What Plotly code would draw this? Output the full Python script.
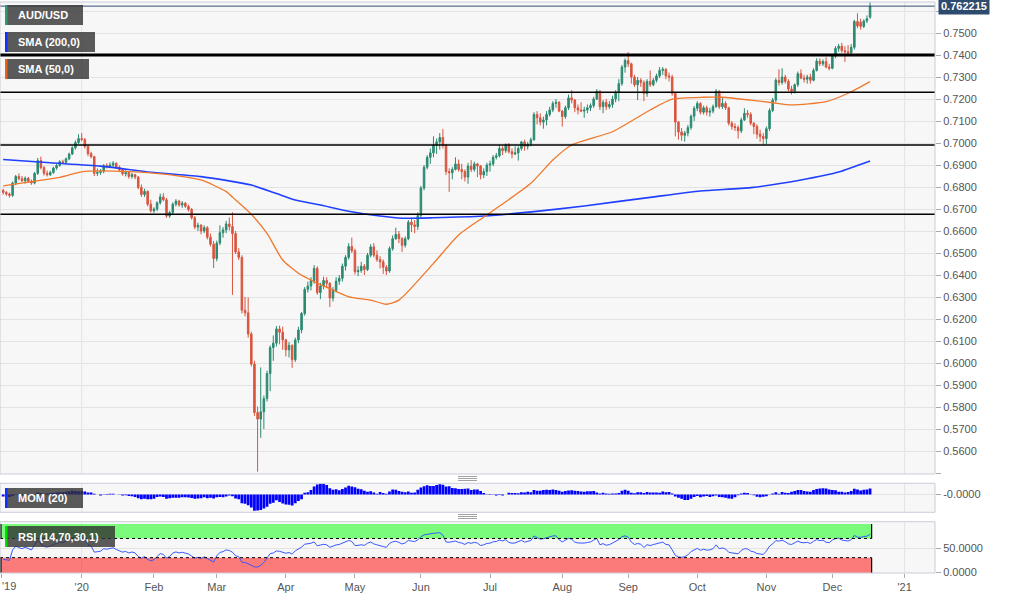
import plotly.graph_objects as go

# ---------------- data (AUD/USD daily, index 0 = 27 Nov 2019) ----------------
prior_close = [0.6880, 0.6895, 0.6905, 0.6905, 0.6880, 0.6870, 0.6890, 0.6860, 0.6860, 0.6855,
               0.6830, 0.6810, 0.6815, 0.6825, 0.6800, 0.6790, 0.6795, 0.6795, 0.6795, 0.6790]

opens = [
    0.6785, 0.6775, 0.6768, 0.6762, 0.6818, 0.6848, 0.6838, 0.6828, 0.6840, 0.6826,
    0.6818, 0.6862, 0.6920, 0.6888, 0.6862, 0.6856, 0.6866, 0.6886, 0.6898, 0.6915,
    0.6912, 0.6928, 0.6950, 0.6978, 0.7002, 0.7020, 0.7016, 0.6985, 0.6952, 0.6938,
    0.6862, 0.6866, 0.6872, 0.6898, 0.6893, 0.6900, 0.6908, 0.6890, 0.6878, 0.6860,
    0.6866, 0.6848, 0.6856, 0.6845, 0.6798, 0.6766, 0.6780, 0.6722, 0.6692, 0.6700,
    0.6728, 0.6755, 0.6742, 0.6668, 0.6684, 0.6722, 0.6736, 0.6718, 0.6726, 0.6712,
    0.6698, 0.6660, 0.6618, 0.6626, 0.6600, 0.6615, 0.6572, 0.6540, 0.6475, 0.6545,
    0.6592, 0.6605, 0.6632, 0.6620, 0.6588, 0.6505, 0.6480, 0.6240, 0.6228, 0.6132,
    0.5995, 0.5775, 0.5745, 0.5778, 0.5838, 0.5952, 0.6070, 0.6090, 0.6155, 0.6140,
    0.6105, 0.6060, 0.6080, 0.6015, 0.6105, 0.6150, 0.6225, 0.6335, 0.6350, 0.6375,
    0.6430, 0.6320, 0.6350, 0.6375, 0.6362, 0.6295, 0.6330, 0.6372, 0.6385, 0.6440,
    0.6480, 0.6530, 0.6510, 0.6415, 0.6420, 0.6440, 0.6425, 0.6490, 0.6528, 0.6490,
    0.6470, 0.6460, 0.6435, 0.6418, 0.6520, 0.6565, 0.6585, 0.6565, 0.6535, 0.6565,
    0.6640, 0.6628, 0.6620, 0.6670, 0.6795, 0.6890, 0.6935, 0.6955, 0.6990, 0.7005,
    0.7025, 0.6990, 0.6870, 0.6865, 0.6880, 0.6905, 0.6880, 0.6870, 0.6845, 0.6895,
    0.6880, 0.6905, 0.6895, 0.6855, 0.6870, 0.6900, 0.6905, 0.6935, 0.6942, 0.6975,
    0.6965, 0.6992, 0.6960, 0.6950, 0.6955, 0.6975, 0.7005, 0.6985, 0.6995, 0.7015,
    0.7130, 0.7115, 0.7095, 0.7105, 0.7130, 0.7150, 0.7180, 0.7185, 0.7145, 0.7120,
    0.7160, 0.7205, 0.7195, 0.7160, 0.7150, 0.7145, 0.7150, 0.7160, 0.7170, 0.7200,
    0.7235, 0.7165, 0.7185, 0.7165, 0.7175, 0.7200, 0.7230, 0.7270, 0.7345, 0.7375,
    0.7360, 0.7300, 0.7265, 0.7285, 0.7275, 0.7225, 0.7280, 0.7265, 0.7285, 0.7305,
    0.7330, 0.7335, 0.7305, 0.7300, 0.7225, 0.7095, 0.7050, 0.7035, 0.7045, 0.7070,
    0.7122, 0.7158, 0.7180, 0.7140, 0.7160, 0.7140, 0.7145, 0.7165, 0.7235, 0.7165,
    0.7180, 0.7160, 0.7090, 0.7075, 0.7070, 0.7055, 0.7105, 0.7135, 0.7130, 0.7090,
    0.7075, 0.7040, 0.7030, 0.7020, 0.7065, 0.7148, 0.7195, 0.7285, 0.7275, 0.7300,
    0.7280, 0.7245, 0.7235, 0.7265, 0.7315, 0.7295, 0.7290, 0.7300, 0.7285, 0.7330,
    0.7372, 0.7360, 0.7370, 0.7345, 0.7340, 0.7395, 0.7430, 0.7440, 0.7420, 0.7415,
    0.7410, 0.7435, 0.7552, 0.7550, 0.7530, 0.7555, 0.7572,
]

highs = [
    0.6792, 0.6782, 0.6775, 0.6825, 0.6855, 0.6862, 0.6850, 0.6848, 0.6846, 0.6834,
    0.6868, 0.6932, 0.6938, 0.6895, 0.6875, 0.6874, 0.6892, 0.6905, 0.6922, 0.6924,
    0.6934, 0.6956, 0.6985, 0.7012, 0.7040, 0.7045, 0.7022, 0.6990, 0.6960, 0.6942,
    0.6884, 0.6882, 0.6904, 0.6908, 0.6912, 0.6918, 0.6912, 0.6898, 0.6885, 0.6876,
    0.6870, 0.6864, 0.6860, 0.6850, 0.6812, 0.6792, 0.6785, 0.6742, 0.6708, 0.6735,
    0.6770, 0.6772, 0.6750, 0.6692, 0.6730, 0.6745, 0.6742, 0.6736, 0.6732, 0.6720,
    0.6705, 0.6668, 0.6638, 0.6632, 0.6626, 0.6622, 0.6588, 0.6555, 0.6556, 0.6626,
    0.6618, 0.6646, 0.6662, 0.6685, 0.6600, 0.6522, 0.6490, 0.6300, 0.6298, 0.6142,
    0.6010, 0.5802, 0.5980, 0.5852, 0.5965, 0.6080, 0.6125, 0.6168, 0.6170, 0.6165,
    0.6110, 0.6095, 0.6085, 0.6115, 0.6165, 0.6232, 0.6345, 0.6370, 0.6390, 0.6445,
    0.6440, 0.6365, 0.6392, 0.6390, 0.6368, 0.6345, 0.6390, 0.6400, 0.6452, 0.6490,
    0.6545, 0.6570, 0.6520, 0.6440, 0.6460, 0.6450, 0.6500, 0.6540, 0.6545, 0.6512,
    0.6485, 0.6470, 0.6445, 0.6530, 0.6580, 0.6615, 0.6600, 0.6572, 0.6575, 0.6650,
    0.6660, 0.6650, 0.6685, 0.6805, 0.6900, 0.6945, 0.6975, 0.7030, 0.7020, 0.7045,
    0.7064, 0.6995, 0.6885, 0.6890, 0.6935, 0.6925, 0.6905, 0.6880, 0.6910, 0.6922,
    0.6915, 0.6910, 0.6900, 0.6885, 0.6910, 0.6920, 0.6945, 0.6955, 0.6990, 0.6985,
    0.6998, 0.7000, 0.6975, 0.6985, 0.6985, 0.7010, 0.7015, 0.7005, 0.7025, 0.7140,
    0.7145, 0.7135, 0.7120, 0.7145, 0.7165, 0.7190, 0.7200, 0.7190, 0.7150, 0.7170,
    0.7220, 0.7240, 0.7200, 0.7175, 0.7185, 0.7165, 0.7175, 0.7180, 0.7210, 0.7245,
    0.7240, 0.7195, 0.7200, 0.7190, 0.7215, 0.7240, 0.7290, 0.7355, 0.7385, 0.7413,
    0.7365, 0.7310, 0.7300, 0.7295, 0.7285, 0.7290, 0.7330, 0.7295, 0.7315, 0.7345,
    0.7345, 0.7340, 0.7320, 0.7310, 0.7230, 0.7100, 0.7068, 0.7055, 0.7082, 0.7130,
    0.7168, 0.7190, 0.7185, 0.7170, 0.7170, 0.7160, 0.7175, 0.7245, 0.7240, 0.7205,
    0.7190, 0.7165, 0.7100, 0.7090, 0.7080, 0.7115, 0.7158, 0.7150, 0.7140, 0.7095,
    0.7085, 0.7060, 0.7045, 0.7075, 0.7158, 0.7205, 0.7295, 0.7335, 0.7340, 0.7310,
    0.7290, 0.7260, 0.7270, 0.7325, 0.7335, 0.7310, 0.7310, 0.7315, 0.7340, 0.7385,
    0.7385, 0.7380, 0.7390, 0.7360, 0.7400, 0.7440, 0.7450, 0.7455, 0.7440, 0.7445,
    0.7450, 0.7560, 0.7590, 0.7565, 0.7562, 0.7580, 0.7642,
]

lows = [
    0.6765, 0.6760, 0.6752, 0.6755, 0.6808, 0.6830, 0.6822, 0.6815, 0.6818, 0.6810,
    0.6812, 0.6855, 0.6880, 0.6852, 0.6848, 0.6850, 0.6860, 0.6878, 0.6892, 0.6905,
    0.6908, 0.6922, 0.6945, 0.6970, 0.6995, 0.7008, 0.6975, 0.6940, 0.6930, 0.6850,
    0.6850, 0.6855, 0.6862, 0.6884, 0.6885, 0.6890, 0.6882, 0.6868, 0.6852, 0.6848,
    0.6838, 0.6838, 0.6835, 0.6790, 0.6755, 0.6755, 0.6712, 0.6684, 0.6682, 0.6690,
    0.6720, 0.6735, 0.6660, 0.6660, 0.6675, 0.6712, 0.6710, 0.6705, 0.6705, 0.6688,
    0.6652, 0.6608, 0.6600, 0.6585, 0.6590, 0.6562, 0.6530, 0.6432, 0.6462, 0.6535,
    0.6570, 0.6590, 0.6602, 0.6310, 0.6495, 0.6468, 0.6225, 0.6212, 0.6115, 0.5985,
    0.5760, 0.5506, 0.5660, 0.5700, 0.5825, 0.5872, 0.6010, 0.6075, 0.6085, 0.6060,
    0.6030, 0.6025, 0.5978, 0.6005, 0.6090, 0.6135, 0.6215, 0.6320, 0.6330, 0.6360,
    0.6310, 0.6290, 0.6335, 0.6340, 0.6255, 0.6280, 0.6320, 0.6355, 0.6370, 0.6420,
    0.6470, 0.6500, 0.6402, 0.6395, 0.6410, 0.6400, 0.6418, 0.6480, 0.6480, 0.6460,
    0.6430, 0.6405, 0.6400, 0.6410, 0.6510, 0.6560, 0.6545, 0.6505, 0.6525, 0.6558,
    0.6595, 0.6590, 0.6605, 0.6660, 0.6785, 0.6880, 0.6905, 0.6935, 0.6950, 0.6970,
    0.6975, 0.6855, 0.6778, 0.6835, 0.6875, 0.6870, 0.6835, 0.6825, 0.6815, 0.6868,
    0.6870, 0.6845, 0.6835, 0.6840, 0.6850, 0.6870, 0.6895, 0.6925, 0.6935, 0.6945,
    0.6955, 0.6952, 0.6930, 0.6945, 0.6920, 0.6965, 0.6965, 0.6970, 0.6985, 0.7010,
    0.7085, 0.7080, 0.7065, 0.7080, 0.7120, 0.7140, 0.7160, 0.7140, 0.7075, 0.7110,
    0.7150, 0.7180, 0.7140, 0.7130, 0.7140, 0.7115, 0.7135, 0.7145, 0.7160, 0.7195,
    0.7150, 0.7135, 0.7150, 0.7155, 0.7160, 0.7185, 0.7190, 0.7260, 0.7320, 0.7345,
    0.7270, 0.7255, 0.7195, 0.7255, 0.7190, 0.7210, 0.7255, 0.7258, 0.7275, 0.7295,
    0.7310, 0.7290, 0.7280, 0.7215, 0.7030, 0.7015, 0.7010, 0.7006, 0.7030, 0.7060,
    0.7100, 0.7145, 0.7130, 0.7130, 0.7125, 0.7120, 0.7135, 0.7160, 0.7155, 0.7155,
    0.7150, 0.7080, 0.7060, 0.7055, 0.7020, 0.7045, 0.7100, 0.7115, 0.7080, 0.7040,
    0.7020, 0.7005, 0.6991, 0.6995, 0.7055, 0.7140, 0.7185, 0.7260, 0.7265, 0.7270,
    0.7235, 0.7220, 0.7225, 0.7255, 0.7290, 0.7275, 0.7270, 0.7270, 0.7280, 0.7325,
    0.7350, 0.7350, 0.7340, 0.7330, 0.7335, 0.7385, 0.7415, 0.7410, 0.7368, 0.7395,
    0.7400, 0.7425, 0.7522, 0.7515, 0.7522, 0.7545, 0.7565,
]

closes = [
    0.6775, 0.6768, 0.6762, 0.6818, 0.6848, 0.6838, 0.6828, 0.6840, 0.6826, 0.6818,
    0.6862, 0.6920, 0.6888, 0.6862, 0.6856, 0.6866, 0.6886, 0.6898, 0.6915, 0.6912,
    0.6928, 0.6950, 0.6978, 0.7002, 0.7020, 0.7016, 0.6985, 0.6952, 0.6938, 0.6862,
    0.6866, 0.6872, 0.6898, 0.6893, 0.6900, 0.6908, 0.6890, 0.6878, 0.6860, 0.6866,
    0.6848, 0.6856, 0.6845, 0.6798, 0.6766, 0.6780, 0.6722, 0.6692, 0.6700, 0.6728,
    0.6755, 0.6742, 0.6668, 0.6684, 0.6722, 0.6736, 0.6718, 0.6726, 0.6712, 0.6698,
    0.6660, 0.6618, 0.6626, 0.6600, 0.6615, 0.6572, 0.6540, 0.6475, 0.6545, 0.6592,
    0.6605, 0.6632, 0.6620, 0.6588, 0.6505, 0.6480, 0.6240, 0.6228, 0.6132, 0.5995,
    0.5775, 0.5745, 0.5778, 0.5838, 0.5952, 0.6070, 0.6090, 0.6155, 0.6140, 0.6105,
    0.6060, 0.6080, 0.6015, 0.6105, 0.6150, 0.6225, 0.6335, 0.6350, 0.6375, 0.6430,
    0.6320, 0.6350, 0.6375, 0.6362, 0.6295, 0.6330, 0.6372, 0.6385, 0.6440, 0.6480,
    0.6530, 0.6510, 0.6415, 0.6420, 0.6440, 0.6425, 0.6490, 0.6528, 0.6490, 0.6470,
    0.6460, 0.6435, 0.6418, 0.6520, 0.6565, 0.6585, 0.6565, 0.6535, 0.6565, 0.6640,
    0.6628, 0.6620, 0.6670, 0.6795, 0.6890, 0.6935, 0.6955, 0.6990, 0.7005, 0.7025,
    0.6990, 0.6870, 0.6865, 0.6880, 0.6905, 0.6880, 0.6870, 0.6845, 0.6895, 0.6880,
    0.6905, 0.6895, 0.6855, 0.6870, 0.6900, 0.6905, 0.6935, 0.6942, 0.6975, 0.6965,
    0.6992, 0.6960, 0.6950, 0.6955, 0.6975, 0.7005, 0.6985, 0.6995, 0.7015, 0.7130,
    0.7115, 0.7095, 0.7105, 0.7130, 0.7150, 0.7180, 0.7185, 0.7145, 0.7120, 0.7160,
    0.7205, 0.7195, 0.7160, 0.7150, 0.7145, 0.7150, 0.7160, 0.7170, 0.7200, 0.7235,
    0.7165, 0.7185, 0.7165, 0.7175, 0.7200, 0.7230, 0.7270, 0.7345, 0.7375, 0.7360,
    0.7300, 0.7265, 0.7285, 0.7275, 0.7225, 0.7280, 0.7265, 0.7285, 0.7305, 0.7330,
    0.7335, 0.7305, 0.7300, 0.7225, 0.7095, 0.7050, 0.7035, 0.7045, 0.7070, 0.7122,
    0.7158, 0.7180, 0.7140, 0.7160, 0.7140, 0.7145, 0.7165, 0.7235, 0.7165, 0.7180,
    0.7160, 0.7090, 0.7075, 0.7070, 0.7055, 0.7105, 0.7135, 0.7130, 0.7090, 0.7075,
    0.7040, 0.7030, 0.7020, 0.7065, 0.7148, 0.7195, 0.7285, 0.7275, 0.7300, 0.7280,
    0.7245, 0.7235, 0.7265, 0.7315, 0.7295, 0.7290, 0.7300, 0.7285, 0.7330, 0.7372,
    0.7360, 0.7370, 0.7345, 0.7340, 0.7395, 0.7430, 0.7440, 0.7420, 0.7415, 0.7410,
    0.7435, 0.7552, 0.7532, 0.7530, 0.7555, 0.7565, 0.762215,
]

sma200_idx = [0, 15, 31, 47, 63, 71, 79, 87, 93, 101, 110, 120, 127, 137, 153, 169,
              185, 206, 222, 238, 254, 266, 276]
sma200_val = [0.6925, 0.6910, 0.6895, 0.6867, 0.6847, 0.6830, 0.6809, 0.6770, 0.6741,
              0.6718, 0.6690, 0.6668, 0.6658, 0.6660, 0.6668, 0.6688, 0.6714, 0.6753,
              0.6782, 0.6797, 0.6832, 0.6868, 0.6918]

sma50_idx = [0, 9, 18, 25, 31, 40, 47, 55, 63, 71, 74, 79, 84, 89, 94, 99, 105, 110,
             117, 122, 126, 137, 145, 154, 168, 175, 181, 194, 206, 213, 223, 229, 238,
             245, 251, 262, 269, 276]
sma50_val = [0.6805, 0.6824, 0.6844, 0.6869, 0.6873, 0.6870, 0.6864, 0.6852, 0.6832,
             0.6779, 0.6741, 0.6676, 0.6589, 0.6468, 0.6408, 0.6370, 0.6332, 0.6301,
             0.6286, 0.6267, 0.6286, 0.6453, 0.6582, 0.6673, 0.6817, 0.6923, 0.6991,
             0.7051, 0.7150, 0.7199, 0.7208, 0.7208, 0.7195, 0.7183, 0.7173, 0.7188,
             0.7226, 0.7279]

tick_idx = [-0.55, 25, 48, 68, 90, 112, 133, 155, 178, 199, 221, 243, 264, 287]
tick_text = ["", "'20", "Feb", "Mar", "Apr", "May", "Jun", "Jul", "Aug", "Sep",
             "Oct", "Nov", "Dec", "'21"]
year_idx = [25, 287]

levels = [0.7400, 0.72305, 0.69909, 0.66759]
level_widths = [3, 1.5, 1.5, 1.5]
last_price = 0.762215

price_ticks = [round(0.55 + 0.01 * k, 2) for k in range(22)]

# ---------------- indicators ----------------
n = min(len(opens), len(highs), len(lows), len(closes))
xs = list(range(n))
allc = prior_close + closes[:n]
off = len(prior_close)
mom = [allc[k] - allc[k - 20] for k in range(off, len(allc))]

per = 14
ch = [allc[k] - allc[k - 1] for k in range(1, len(allc))]
gains = [max(c, 0) for c in ch]
losses = [max(-c, 0) for c in ch]
ag = sum(gains[:per]) / per
al = sum(losses[:per]) / per
rsi_all = [None] * len(allc)
rsi_all[per] = 100.0 if al == 0 else 100 - 100 / (1 + ag / al)
for k in range(per + 1, len(allc)):
    ag = (ag * (per - 1) + gains[k - 1]) / per
    al = (al * (per - 1) + losses[k - 1]) / per
    rsi_all[k] = 100.0 if al == 0 else 100 - 100 / (1 + ag / al)
rsi = rsi_all[off:]

# ---------------- geometry ----------------
PW, PT, PB = 935.0, 2.0, 573.0
def fx(px):
    return px / PW
def fy(py):
    return (PB - py) / (PB - PT)

X0, X1 = -1.0125, 296.68
dom_main = [fy(474), 1.0]
dom_mom = [fy(512.3), fy(483.3)]
dom_rsi = [0.0, fy(521.7)]

FONT = "Arial, 'Liberation Sans', sans-serif"
GRID = "#e3e3e3"
FRAME = "#c9cdd8"
TXT = "#555555"

fig = go.Figure()

fig.add_trace(go.Candlestick(
    x=xs, open=opens[:n], high=highs[:n], low=lows[:n], close=closes[:n],
    increasing=dict(line=dict(color="#2b8a70", width=1), fillcolor="#2b8a70"),
    decreasing=dict(line=dict(color="#d9553f", width=1), fillcolor="#d9553f"),
    whiskerwidth=0, xaxis="x", yaxis="y", hoverinfo="skip", showlegend=False))

fig.add_trace(go.Scatter(x=sma200_idx, y=sma200_val, mode="lines",
                         line=dict(color="#2040ff", width=1.6, shape="spline", smoothing=0.6),
                         xaxis="x", yaxis="y", hoverinfo="skip", showlegend=False))
fig.add_trace(go.Scatter(x=sma50_idx, y=sma50_val, mode="lines",
                         line=dict(color="#f0782a", width=1.3, shape="spline", smoothing=0.6),
                         xaxis="x", yaxis="y", hoverinfo="skip", showlegend=False))

fig.add_trace(go.Bar(x=xs, y=mom, marker=dict(color="#0000ff", line=dict(width=0)),
                     xaxis="x", yaxis="y2", hoverinfo="skip", showlegend=False))

fig.add_trace(go.Scatter(x=xs, y=rsi, mode="lines", line=dict(color="#3558ff", width=1),
                         xaxis="x", yaxis="y3", hoverinfo="skip", showlegend=False))

shapes = []
# year grid lines in every panel
for dom in (dom_main, dom_mom, dom_rsi):
    for xi in year_idx:
        shapes.append(dict(type="line", xref="x", yref="paper", x0=xi, x1=xi,
                           y0=dom[0], y1=dom[1], line=dict(color=GRID, width=1), layer="below"))

# RSI bands
last_x = n - 1 + 0.5
shapes.append(dict(type="rect", xref="x", yref="y3", x0=X0, x1=last_x, y0=70, y1=100,
                   fillcolor="rgba(0,255,0,0.5)", line=dict(width=0), layer="below"))
shapes.append(dict(type="rect", xref="x", yref="y3", x0=X0, x1=last_x, y0=-2, y1=30,
                   fillcolor="rgba(255,0,0,0.5)", line=dict(width=0), layer="below"))
for yv in (70, 30):
    shapes.append(dict(type="line", xref="x", yref="y3", x0=X0, x1=last_x, y0=yv, y1=yv,
                       line=dict(color="black", width=1, dash="dot"), layer="above"))
for (ya, yb) in ((70, 100), (-2, 30)):
    shapes.append(dict(type="line", xref="x", yref="y3", x0=last_x, x1=last_x, y0=ya, y1=yb,
                       line=dict(color="black", width=1.2), layer="above"))
    shapes.append(dict(type="line", xref="paper", yref="y3", x0=fx(0.8), x1=fx(0.8), y0=ya, y1=yb,
                       line=dict(color="black", width=1.5), layer="above"))

# support / resistance lines
for lv, lw in zip(levels, level_widths):
    shapes.append(dict(type="line", xref="paper", yref="y", x0=0, x1=1, y0=lv, y1=lv,
                       line=dict(color="black", width=lw), layer="above"))
# last price line
shapes.append(dict(type="line", xref="paper", yref="y", x0=0, x1=1, y0=last_price, y1=last_price,
                   line=dict(color="#34507a", width=1), layer="above"))

# panel frames
for dom in (dom_main, dom_mom, dom_rsi):
    shapes.append(dict(type="rect", xref="paper", yref="paper", x0=0, x1=1, y0=dom[0], y1=dom[1],
                       line=dict(color=FRAME, width=1), layer="above"))

# drag handles
for ys in ((476.5, 478.5, 480.5), (514.5, 516.5, 518.5)):
    for yy in ys:
        shapes.append(dict(type="line", xref="paper", yref="paper", x0=fx(458), x1=fx(477),
                           y0=fy(yy), y1=fy(yy), line=dict(color="#8a8a8a", width=0.8),
                           layer="above"))

# label boxes
labels = [
    ("AUD/USD", 5, 83, 5, 25, "#2e9a72"),
    ("SMA (200,0)", 5, 95, 32, 52, "#1030ff"),
    ("SMA (50,0)", 5, 89, 59, 79, "#e8601c"),
    ("MOM (20)", 5, 83, 488, 508, "#1030ff"),
    ("RSI (14,70,30,1)", 5, 115, 526, 547, "#00e000"),
]
annotations = []
for text, xa, xb, ya, yb, col in labels:
    shapes.append(dict(type="rect", xref="paper", yref="paper", x0=fx(xa), x1=fx(xb),
                       y0=fy(yb), y1=fy(ya), fillcolor="rgba(50,50,50,0.8)",
                       line=dict(width=0), layer="above"))
    shapes.append(dict(type="rect", xref="paper", yref="paper", x0=fx(xa), x1=fx(xa + 2.5),
                       y0=fy(yb), y1=fy(ya), fillcolor=col, line=dict(width=0), layer="above"))
    annotations.append(dict(xref="paper", yref="paper", x=fx(xa + 11), y=fy((ya + yb) / 2),
                            xanchor="left", yanchor="middle", showarrow=False,
                            text="<b>%s</b>" % text,
                            font=dict(family=FONT, size=11, color="white")))

annotations.append(dict(xref="paper", yref="y", x=1, y=last_price, xanchor="left",
                        yanchor="middle", xshift=3, showarrow=False,
                        text="<b>%.6f</b>" % last_price, bgcolor="#2d4b6e", borderpad=2,
                        font=dict(family=FONT, size=11, color="white")))
annotations.append(dict(xref="paper", yref="paper", x=0, y=fy(586), xanchor="left",
                        yanchor="middle", showarrow=False, text="'19",
                        font=dict(family=FONT, size=11, color=TXT)))

axis_common = dict(side="right", anchor="x", zeroline=False, showline=False,
                   ticks="outside", ticklen=5, tickcolor="#aaaaaa",
                   tickfont=dict(family=FONT, size=11, color=TXT), gridcolor=GRID, gridwidth=1)

fig.update_layout(
    width=1012, height=599,
    margin=dict(l=0, r=1012 - PW, t=PT, b=599 - PB, autoexpand=False),
    paper_bgcolor="white", plot_bgcolor="#f7f7f7",
    showlegend=False, bargap=0.12, hovermode=False,
    xaxis=dict(domain=[0, 1], range=[X0, X1], anchor="y3", tickmode="array",
               tickvals=tick_idx, ticktext=tick_text, showgrid=False, zeroline=False,
               showline=False, ticks="outside", ticklen=4, tickcolor="#aaaaaa",
               tickfont=dict(family=FONT, size=11, color=TXT),
               rangeslider=dict(visible=False)),
    yaxis=dict(domain=dom_main, range=[0.549545, 0.764091], tickmode="array",
               tickvals=price_ticks,
               ticktext=["" if (v < 0.555 or v > 0.755) else "%.4f" % v for v in price_ticks],
               **axis_common),
    yaxis2=dict(domain=dom_mom, range=[-0.097, 0.061], tickmode="array",
                tickvals=[0], ticktext=["-0.0000"], **axis_common),
    yaxis3=dict(domain=dom_rsi, range=[-2, 105], tickmode="array",
                tickvals=[0, 50], ticktext=["0.0000", "50.0000"], **axis_common),
    shapes=shapes, annotations=annotations,
    font=dict(family=FONT),
)

fig.write_html("out.html",
               config={"displayModeBar": False, "staticPlot": True},
               post_script="document.body.style.margin='0';document.body.style.padding='0';"
                           "document.body.style.overflow='hidden';")
